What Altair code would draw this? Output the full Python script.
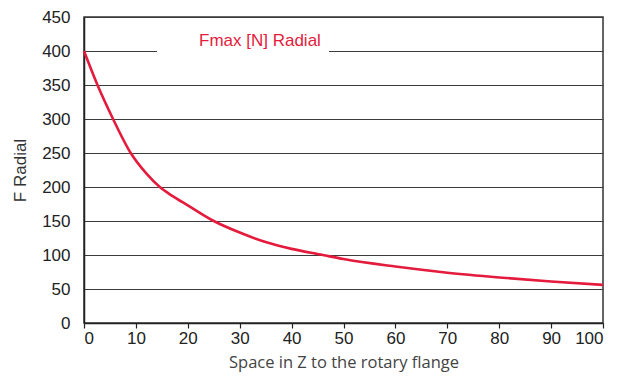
import altair as alt
import pandas as pd

x_vals = [0, 2.6, 5.6, 9, 12, 14.6, 17, 20, 25, 30, 35, 40, 46, 50, 60, 70, 80, 90, 100]
f_vals = [400, 350, 300, 250, 220, 200, 187, 173, 150, 133, 119, 109, 100, 94, 83, 74, 67, 61, 56]
series = "Fmax [N] Radial"
red = "#e41b3c"

df = pd.DataFrame({"z": x_vals, "f": f_vals, "s": [series] * len(x_vals)})

chart = alt.Chart(df).mark_line(strokeWidth=2.6, interpolate="monotone").encode(
    x=alt.X("z:Q", scale=alt.Scale(domain=[0, 100], nice=False),
            axis=alt.Axis(values=list(range(0, 101, 10)), title="Space in Z to the rotary flange",
                          grid=False, tickSize=5, tickColor="#222", tickWidth=1.2,
                          domainColor="#222", domainWidth=1.5, labelPadding=2,
                          labelFont="Liberation Sans", labelFontSize=17, labelColor="#222",
                          titleFont="Open Sans", titleFontSize=16.5, titleFontWeight="normal",
                          titleColor="#444", titlePadding=8)),
    y=alt.Y("f:Q", scale=alt.Scale(domain=[0, 450], nice=False),
            axis=alt.Axis(values=list(range(0, 451, 50)), title="F Radial",
                          grid=True, gridColor="#3c3c3c", gridWidth=1.2, ticks=False,
                          domainColor="#222", domainWidth=1.5, labelPadding=14,
                          labelFont="Liberation Sans", labelFontSize=17, labelColor="#222",
                          titleFont="Liberation Sans", titleFontSize=17, titleFontWeight="normal",
                          titleColor="#333", titlePadding=12)),
    color=alt.Color("s:N", scale=alt.Scale(range=[red]),
                    legend=alt.Legend(orient="none", legendX=73, legendY=7, title=None,
                                      fillColor="white", padding=8, symbolSize=100,
                                      symbolOpacity=0, symbolStrokeWidth=0, labelOffset=17,
                                      labelColor=red, labelFontSize=17,
                                      labelFont="Liberation Sans", labelLimit=300)),
).properties(
    width=519, height=306,
    padding={"left": 76, "top": 9, "right": 11, "bottom": 50},
    autosize=alt.AutoSizeParams(type="none"),
).configure_view(stroke="#333", strokeWidth=1.5)

chart.save("out.html", embed_options={"renderer": "svg", "actions": False})
